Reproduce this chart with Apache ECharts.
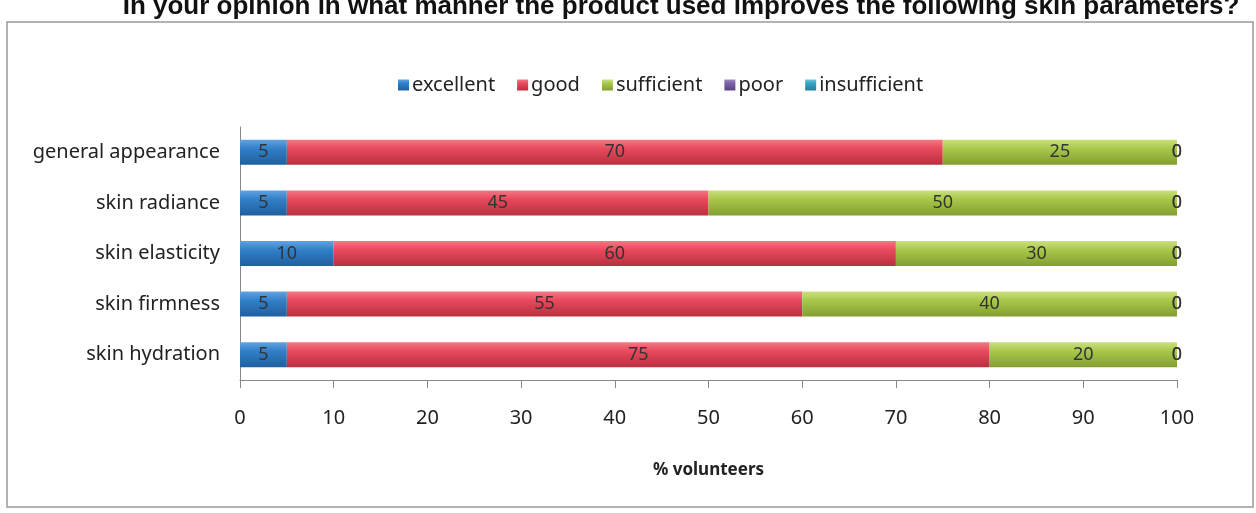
<!DOCTYPE html>
<html><head><meta charset="utf-8">
<script src="https://cdn.jsdelivr.net/npm/echarts@6/dist/echarts.min.js"></script>
<style>html,body{margin:0;padding:0;background:#fff}#c{width:1256px;height:513px}</style>
</head><body><div id="c"></div>
<script>
const title = 'In your opinion in what manner the product used improves the following skin parameters?';
const categories = ['general appearance','skin radiance','skin elasticity','skin firmness','skin hydration'];
const seriesNames = ['excellent','good','sufficient','poor','insufficient'];
const excellent = [5,5,10,5,5];
const good = [70,45,60,55,75];
const sufficient = [25,50,30,40,20];
const poor = [0,0,0,0,0];
const insufficient = [0,0,0,0,0];
const xTicks = [0,10,20,30,40,50,60,70,80,90,100];
const xTitle = '% volunteers';

const colors = [['#62a3e0','#3280c8','#1f5f9e'],['#f57784','#e84a5c','#b8303f'],['#cbe07f','#a8c84a','#829e32'],['#9c86c0','#7b61a6','#5b4583'],['#6cc3dc','#3aa4c4','#237f9b']];
const grad = c => new echarts.graphic.LinearGradient(0,0,0,1,[{offset:0,color:c[0]},{offset:0.35,color:c[1]},{offset:1,color:c[2]}]);
const dataSets = [excellent,good,sufficient,poor,insufficient];
const font = 'Noto Sans';
const chart = echarts.init(document.getElementById('c'));
chart.setOption({
  animation:false,
  title:{text:title,left:676,textAlign:'center',top:-11,textStyle:{fontFamily:'Liberation Sans',fontSize:26,fontWeight:'bold',color:'#111'}},
  graphic:[{type:'rect',shape:{x:7,y:22,width:1246,height:485},style:{fill:'none',stroke:'#9a9a9a',lineWidth:1.5},z:-1}],
  legend:{top:70,left:393,itemWidth:11,itemHeight:11,itemGap:22,icon:'rect',
    textStyle:{fontFamily:font,fontSize:20,color:'#222',padding:[0,0,0,-2]},
    data:seriesNames},
  grid:{left:240,right:79,top:127,bottom:133},
  xAxis:{type:'value',min:0,max:100,interval:10,
    axisLine:{show:true,lineStyle:{color:'#888'}},axisTick:{show:true,length:8,lineStyle:{color:'#888'}},
    splitLine:{show:false},
    axisLabel:{fontFamily:font,fontSize:20,color:'#222',margin:28,formatter:v=>xTicks.includes(v)?String(v):''},
    name:xTitle,nameLocation:'middle',nameGap:82,nameTextStyle:{fontFamily:font,fontSize:17,fontWeight:'bold',color:'#222'}},
  yAxis:{type:'category',inverse:true,data:categories,
    axisLine:{show:true,lineStyle:{color:'#888'}},axisTick:{show:false},
    axisLabel:{fontFamily:font,fontSize:20,color:'#222',margin:20}},
  series:seriesNames.map((n,i)=>({
    name:n,type:'bar',stack:'t',barWidth:25,data:dataSets[i],
    itemStyle:{color:grad(colors[i])},
    label:{show:true,position:'inside',fontFamily:font,fontSize:18,color:'#333'},
  }))
});
</script></body></html>
